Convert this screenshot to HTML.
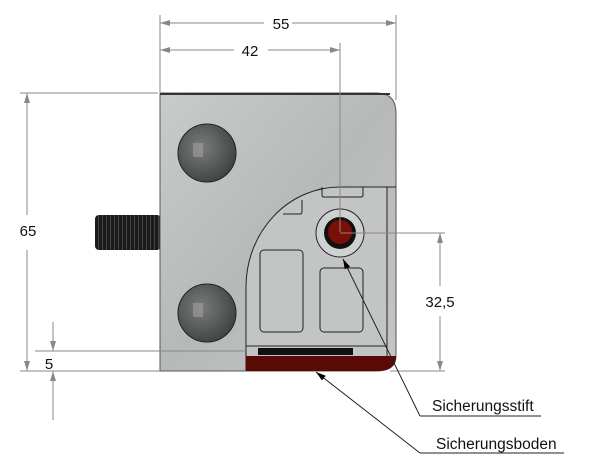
<!DOCTYPE html>
<html><head><meta charset="utf-8"><style>
html,body{margin:0;padding:0;background:#fff;}
svg{display:block;}
text{font-family:"Liberation Sans",sans-serif;fill:#111;}
</style></head><body>
<svg width="600" height="460" viewBox="0 0 600 460" xmlns="http://www.w3.org/2000/svg">
<defs>
<linearGradient id="steel" x1="0" y1="0" x2="1" y2="1">
<stop offset="0" stop-color="#c9cbcb"/><stop offset="0.5" stop-color="#b7b9b9"/><stop offset="1" stop-color="#c4c6c6"/>
</linearGradient>
<radialGradient id="ball" cx="0.4" cy="0.4" r="0.7">
<stop offset="0" stop-color="#7a7c7c"/><stop offset="1" stop-color="#3c3e3e"/>
</radialGradient>
<pattern id="thread" width="4" height="40" patternUnits="userSpaceOnUse">
<rect width="4" height="40" fill="#1a1a1a"/><rect x="2" width="1" height="40" fill="#444"/>
</pattern>
<marker id="ar" viewBox="0 0 10 6" refX="10" refY="3" markerWidth="10" markerHeight="6" orient="auto-start-reverse" markerUnits="userSpaceOnUse">
<path d="M0,0 L10,3 L0,6 z" fill="#888"/></marker>
<marker id="ak" viewBox="0 0 10 6" refX="10" refY="3" markerWidth="10" markerHeight="6" orient="auto" markerUnits="userSpaceOnUse">
<path d="M0,0 L10,3 L0,6 z" fill="#000"/></marker>
</defs>

<rect x="95" y="215" width="66" height="35" rx="4" fill="url(#thread)"/>

<path d="M160,93 H376 Q396,93 396,113 V356 Q396,371 376,371 H160 Z" fill="url(#steel)" stroke="#555" stroke-width="1"/>
<line x1="160" y1="94" x2="390" y2="94" stroke="#333" stroke-width="2"/>
<path d="M246,371 V287 A94,100 0 0 1 340,187 H387 V356 Q387,362 380,362" fill="#c3c5c5" stroke="#222" stroke-width="1"/>
<line x1="387" y1="187" x2="396" y2="187" stroke="#222"/>
<path d="M322,187 V195 Q322,197 324,197 H361 Q363,197 363,195 V187" fill="none" stroke="#222"/>
<path d="M283,214 H300 Q302,214 302,212 V200" fill="none" stroke="#222"/>
<rect x="260" y="250" width="43" height="82" rx="4" fill="none" stroke="#222"/>
<rect x="320" y="268" width="43" height="64" rx="4" fill="none" stroke="#222"/>
<circle cx="340" cy="233" r="24" fill="#cfd1d1" stroke="#222"/>
<circle cx="340" cy="233" r="16" fill="#111"/>
<circle cx="340" cy="232" r="12" fill="#7a0f08"/>
<path d="M246,356 H396 V356 Q396,371 378,371 H246 Z" fill="#5a0a05"/>
<rect x="258" y="348" width="95" height="7" fill="#111"/>
<line x1="246" y1="346" x2="387" y2="346" stroke="#222"/>
<circle cx="207" cy="153" r="29" fill="url(#ball)" stroke="#222"/>
<rect x="193" y="143" width="10" height="14" fill="#999" opacity="0.7"/>
<circle cx="207" cy="313" r="29" fill="url(#ball)" stroke="#222"/>
<rect x="193" y="303" width="10" height="14" fill="#999" opacity="0.7"/>

<g stroke="#888" stroke-width="1" fill="none">
<line x1="160" y1="15" x2="160" y2="92"/>
<line x1="396" y1="15" x2="396" y2="100"/>
<line x1="340" y1="43" x2="340" y2="232"/>
<line x1="160" y1="23" x2="264" y2="23" marker-start="url(#ar)"/>
<line x1="292" y1="23" x2="396" y2="23" marker-end="url(#ar)"/>
<line x1="160" y1="50" x2="234" y2="50" marker-start="url(#ar)"/>
<line x1="268" y1="50" x2="340" y2="50" marker-end="url(#ar)"/>
<line x1="20" y1="93" x2="158" y2="93"/>
<line x1="20" y1="371" x2="160" y2="371"/>
<line x1="27" y1="93" x2="27" y2="215" marker-start="url(#ar)"/>
<line x1="27" y1="250" x2="27" y2="371" marker-end="url(#ar)"/>
<line x1="35" y1="351" x2="246" y2="351"/>
<line x1="53" y1="322" x2="53" y2="351" marker-end="url(#ar)"/>
<line x1="53" y1="420" x2="53" y2="371" marker-end="url(#ar)"/>
<line x1="340" y1="233" x2="445" y2="233"/>
<line x1="390" y1="371" x2="445" y2="371"/>
<line x1="440" y1="233" x2="440" y2="286" marker-start="url(#ar)"/>
<line x1="440" y1="316" x2="440" y2="371" marker-end="url(#ar)"/>
</g>
<g stroke="#222" stroke-width="1" fill="none">
<line x1="420" y1="416" x2="343" y2="259" marker-end="url(#ak)"/>
<line x1="420" y1="416" x2="541" y2="416"/>
<line x1="420" y1="453" x2="316" y2="372" marker-end="url(#ak)"/>
<line x1="420" y1="453" x2="564" y2="453"/>
</g>

<g font-size="15">
<text x="281" y="29" text-anchor="middle">55</text>
<text x="250" y="56" text-anchor="middle">42</text>
<text x="28" y="236" text-anchor="middle">65</text>
<text x="49" y="369" text-anchor="middle">5</text>
<text x="440" y="307" text-anchor="middle">32,5</text>
<text x="432" y="411" font-size="15.5">Sicherungsstift</text>
<text x="436" y="449" font-size="15.5">Sicherungsboden</text>
</g>
</svg>
</body></html>
